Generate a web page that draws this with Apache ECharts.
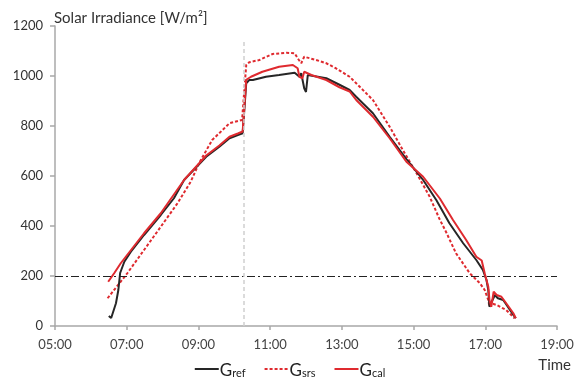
<!DOCTYPE html>
<html>
<head>
<meta charset="utf-8">
<script src="https://cdn.jsdelivr.net/npm/echarts@6/dist/echarts.min.js"></script>
<style>
  html, body { margin: 0; padding: 0; background: #fff; }
  #chart { width: 579px; height: 382px; }
</style>
</head>
<body>
<div id="chart"></div>
<script>
// measured irradiance, W/m2, against local time
const refTimes = ['06:30', '06:34', '06:42', '06:46', '06:49', '06:56', '07:07', '07:29', '07:57', '08:19', '08:36', '09:13', '09:35', '09:52', '10:06', '10:14', '10:20', '10:25', '10:31', '10:53', '11:15', '11:41', '11:44', '11:49', '11:52', '11:57', '12:00', '12:03', '12:06', '12:34', '12:56', '13:13', '13:24', '13:52', '14:20', '14:48', '15:16', '15:38', '16:00', '16:23', '16:45', '16:56', '17:02', '17:05', '17:07', '17:10', '17:16', '17:21', '17:30', '17:47', '17:51']
const refValues = [40, 32, 91, 144, 212, 257, 297, 364, 444, 511, 584, 677, 717, 751, 764, 771, 971, 984, 984, 997, 1004, 1013, 1011, 997, 1011, 951, 936, 1004, 1011, 991, 965, 944, 917, 851, 757, 668, 584, 504, 411, 331, 264, 224, 184, 144, 77, 84, 124, 111, 104, 44, 31]

const srsTimes = ['06:28', '07:01', '07:29', '07:57', '08:25', '08:47', '09:01', '09:23', '09:52', '10:13', '10:20', '10:25', '10:42', '11:04', '11:27', '11:41', '11:46', '11:52', '11:57', '12:00', '12:17', '12:34', '12:50', '13:13', '13:24', '13:52', '14:20', '14:42', '15:05', '15:27', '15:43', '15:55', '16:11', '16:34', '16:51', '16:59', '17:05', '17:07', '17:10', '17:19', '17:35', '17:49']
const srsValues = [111, 211, 304, 397, 491, 577, 651, 744, 811, 824, 1044, 1055, 1064, 1088, 1093, 1091, 1071, 1051, 1077, 1084, 1064, 1051, 1031, 997, 971, 904, 797, 704, 611, 517, 430, 373, 291, 211, 171, 144, 104, 77, 91, 84, 64, 31]

const calTimes = ['06:29', '06:39', '06:50', '07:29', '07:57', '08:36', '09:13', '09:35', '09:52', '10:06', '10:14', '10:20', '10:28', '10:47', '11:15', '11:38', '11:46', '11:49', '11:54', '11:57', '12:00', '12:09', '12:34', '12:56', '13:13', '13:24', '13:52', '14:20', '14:48', '15:16', '15:44', '16:06', '16:28', '16:45', '16:54', '16:59', '17:05', '17:07', '17:10', '17:14', '17:19', '17:27', '17:35', '17:47', '17:51']
const calValues = [177, 211, 251, 371, 451, 584, 682, 722, 757, 770, 778, 985, 997, 1017, 1037, 1044, 1031, 997, 991, 1017, 1017, 1004, 984, 955, 938, 904, 837, 751, 657, 597, 510, 424, 344, 277, 262, 211, 157, 104, 77, 137, 124, 117, 91, 51, 31]

const hourTicks = [5, 7, 9, 11, 13, 15, 17, 19]
const yTicks = [0, 200, 400, 600, 800, 1000, 1200]
const threshold = 200
const switchTime = '10:15'

const toHours = (t) => {
  const [h, m] = t.split(':').map(Number)
  return h + m / 60
}
const pairs = (times, values) => times.map((t, i) => [toHours(t), values[i]])

const font = 'Lato, "Open Sans", sans-serif'
const red = '#df2a2f'

const legendRich = {
  g: { fontSize: 17, color: '#222', fontFamily: font, verticalAlign: 'bottom', lineHeight: 20 },
  s: { fontSize: 11, color: '#222', fontFamily: font, verticalAlign: 'bottom', lineHeight: 16 },
}

const myChart = echarts.init(document.getElementById('chart'), null, { renderer: 'canvas' })

const option = {
  animation: false,
  backgroundColor: '#fff',
  textStyle: { fontFamily: font },
  title: {
    text: 'Solar Irradiance [W/m²]',
    left: 49,
    top: 6,
    textStyle: { fontSize: 15, fontWeight: 'normal', color: '#333', fontFamily: font },
  },
  graphic: [
    {
      type: 'text',
      right: 8,
      top: 358,
      style: { text: 'Time', fontSize: 15, fill: '#333', fontFamily: font },
    },
  ],
  legend: {
    left: 'center',
    top: 357,
    itemWidth: 24,
    itemHeight: 12,
    itemGap: 18,
    data: ['Gref', 'Gsrs', 'Gcal'],
    itemStyle: { opacity: 0 },
    formatter(name) {
      return '{g|G}{s|' + name.slice(1) + '}'
    },
    textStyle: { rich: legendRich, padding: [0, 0, 0, -4] },
  },
  grid: { left: 55, right: 22, top: 26, bottom: 56 },
  xAxis: {
    type: 'value',
    min: hourTicks[0],
    max: hourTicks[hourTicks.length - 1],
    interval: 2,
    axisLine: { lineStyle: { color: '#a8a8a8', width: 1.5 } },
    axisTick: { show: true, length: 4, lineStyle: { color: '#a8a8a8', width: 1.5 } },
    axisLabel: {
      margin: 12,
      fontSize: 13,
      color: '#444',
      fontFamily: font,
      formatter(val) {
        return (val < 10 ? '0' : '') + val + ':00'
      },
    },
    splitLine: { show: false },
  },
  yAxis: {
    type: 'value',
    min: yTicks[0],
    max: yTicks[yTicks.length - 1],
    interval: 200,
    axisLine: { show: true, lineStyle: { color: '#a8a8a8', width: 1.5 } },
    axisTick: { show: true, length: 5, lineStyle: { color: '#a8a8a8', width: 1.5 } },
    axisLabel: {
      margin: 12,
      fontSize: 13,
      color: '#333',
      fontFamily: font,
      formatter: (val) => String(val),
    },
    splitLine: { show: false },
  },
  series: [
    {
      name: 'Gsrs',
      type: 'line',
      data: pairs(srsTimes, srsValues),
      symbol: 'none',
      lineStyle: { color: red, width: 2, type: [3, 2] },
      itemStyle: { color: red },
      z: 2,
      markLine: {
        silent: true,
        symbol: 'none',
        label: { show: false },
        data: [
          {
            yAxis: threshold,
            lineStyle: { color: '#222', width: 1, type: [8, 3, 2, 3] },
          },
          [
            { coord: [toHours(switchTime), 0], lineStyle: { color: '#cfcfcf', width: 1.5, type: [4, 3] } },
            { coord: [toHours(switchTime), 1140] },
          ],
        ],
      },
    },
    {
      name: 'Gref',
      type: 'line',
      data: pairs(refTimes, refValues),
      symbol: 'none',
      lineStyle: { color: '#262626', width: 2 },
      itemStyle: { color: '#262626' },
      z: 3,
    },
    {
      name: 'Gcal',
      type: 'line',
      data: pairs(calTimes, calValues),
      symbol: 'none',
      lineStyle: { color: red, width: 2 },
      itemStyle: { color: red },
      z: 4,
    },
  ],
}

myChart.setOption(option)
</script>
</body>
</html>
